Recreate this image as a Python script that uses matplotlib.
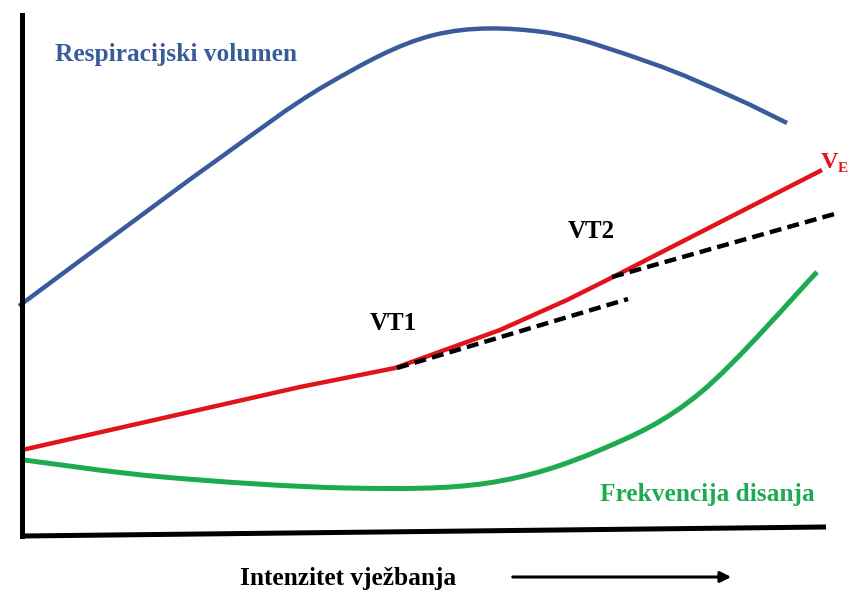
import matplotlib
matplotlib.use("Agg")
import matplotlib.pyplot as plt
from matplotlib.path import Path
from matplotlib.patches import PathPatch
import numpy as np

# Schematic data (pixel-like units, y grows downward)
blue_x = [19, 108, 217, 326, 434, 543, 651, 733, 787]
blue_y = [306, 240, 160, 85, 35, 32, 63, 97, 123]

red_x = [22, 300, 395, 500, 567, 613, 822]
red_y = [450, 387, 368, 330, 300, 277, 170]

dash1_x = [397, 628]
dash1_y = [368, 299]
dash2_x = [612, 838]
dash2_y = [277, 213]

green_x = [24, 163, 347, 488, 600, 700, 817]
green_y = [460, 477, 488, 483, 450, 393, 272]

fig = plt.figure(figsize=(8.51, 5.90), dpi=100)
ax = fig.add_axes([0, 0, 1, 1])
ax.set_xlim(0, 851)
ax.set_ylim(590, 0)
ax.axis("off")

blue = "#3A5B9B"
red = "#E2141B"
green = "#1EAA50"


def smooth_path(xs, ys):
    """Catmull-Rom spline through the points, drawn as cubic Bezier segments."""
    p = np.column_stack([xs, ys]).astype(float)
    n = len(p)
    verts = [p[0]]
    codes = [Path.MOVETO]
    for i in range(n - 1):
        p0 = p[i - 1] if i > 0 else p[i]
        p1 = p[i]
        p2 = p[i + 1]
        p3 = p[i + 2] if i + 2 < n else p[i + 1]
        verts += [p1 + (p2 - p0) / 6.0, p2 - (p3 - p1) / 6.0, p2]
        codes += [Path.CURVE4] * 3
    return Path(verts, codes)


def add_curve(xs, ys, color, lw):
    ax.add_patch(PathPatch(smooth_path(xs, ys), fill=False, edgecolor=color,
                           lw=lw, capstyle="butt", joinstyle="round"))


add_curve(blue_x, blue_y, blue, 3.2)
ax.plot(red_x, red_y, color=red, lw=3.2, solid_capstyle="butt", solid_joinstyle="round")
add_curve(green_x, green_y, green, 3.6)
ax.plot(dash1_x, dash1_y, color="black", lw=3.2, ls=(0, (2.7, 1.4)))
ax.plot(dash2_x, dash2_y, color="black", lw=3.2, ls=(0, (2.7, 1.4)))

# axes
ax.plot([22, 22], [15, 536], color="black", lw=3.6, solid_capstyle="projecting")
ax.plot([22, 826], [536, 527], color="black", lw=3.6, solid_capstyle="butt")

font = dict(family="Liberation Serif", weight="bold")
ax.text(55, 55, "Respiracijski volumen", color=blue, fontsize=18.3, va="center", ha="left", **font)
ax.text(821, 163, "V", color=red, fontsize=17.5, va="center", ha="left", **font)
ax.text(838, 169, "E", color=red, fontsize=11, va="center", ha="left", **font)
ax.text(591, 231, "VT2", color="black", fontsize=18, va="center", ha="center", **font)
ax.text(393, 323, "VT1", color="black", fontsize=18, va="center", ha="center", **font)
ax.text(815, 494, "Frekvencija disanja", color=green, fontsize=18.3, va="center", ha="right", **font)
ax.text(240, 578, "Intenzitet vježbanja", color="black", fontsize=18.3, va="center", ha="left", **font)
ax.annotate("", xy=(734, 577), xytext=(510, 577),
            arrowprops=dict(arrowstyle="-|>", color="black", lw=2.2, mutation_scale=16))

fig.savefig("out.png", dpi=100)
